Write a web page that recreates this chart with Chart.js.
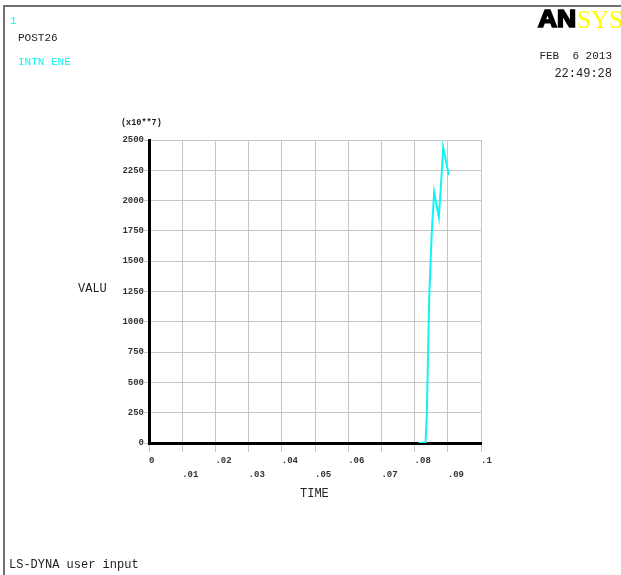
<!DOCTYPE html>
<html>
<head>
<meta charset="utf-8">
<title>POST26 - INTN ENE</title>
<script src="https://cdn.jsdelivr.net/npm/chart.js@4.4.1/dist/chart.umd.min.js"></script>
<style>
  html, body { margin: 0; padding: 0; background: #fff; }
  canvas { display: block; }
</style>
</head>
<body>
<canvas id="postChart" width="621" height="575"></canvas>
<script>
// internal energy history (value in units of 10**7)
const timeValues = [0.0812, 0.0833, 0.0837, 0.0844, 0.0852, 0.0859, 0.0873, 0.0882, 0.0886, 0.0903];
const energyValues = [0, 4, 248, 1205, 1757, 2071, 1862, 2238, 2442, 2211];

const xTickValues = [0, 0.01, 0.02, 0.03, 0.04, 0.05, 0.06, 0.07, 0.08, 0.09, 0.1];
const xTickLabels = ['0', '.01', '.02', '.03', '.04', '.05', '.06', '.07', '.08', '.09', '.1'];
const yTickValues = [0, 250, 500, 750, 1000, 1250, 1500, 1750, 2000, 2250, 2500];
const yTickLabels = ['0', '250', '500', '750', '1000', '1250', '1500', '1750', '2000', '2250', '2500'];

const MONO = '"Liberation Mono", monospace';
const TEXT = '#222';
const CYAN = '#10f4f4';

// frame, header labels, logo and axis captions
const frameText = {
  id: 'frameText',
  afterDraw(chart) {
    const ctx = chart.ctx;
    ctx.save();

    ctx.strokeStyle = '#707070';
    ctx.lineWidth = 2;
    ctx.beginPath();
    ctx.moveTo(4, 575);
    ctx.lineTo(4, 6);
    ctx.lineTo(621, 6);
    ctx.stroke();

    ctx.textBaseline = 'alphabetic';
    ctx.textAlign = 'left';

    ctx.font = '11px ' + MONO;
    ctx.fillStyle = CYAN;
    ctx.fillText('1', 10, 24);
    ctx.fillText('INTN ENE', 18, 65);
    ctx.fillStyle = TEXT;
    ctx.fillText('POST26', 18, 41);

    ctx.textAlign = 'right';
    ctx.fillText('FEB  6 2013', 612, 59);
    ctx.font = '12px ' + MONO;
    ctx.fillText('22:49:28', 612, 77);

    // logo
    ctx.textAlign = 'left';
    ctx.save();
    ctx.translate(538, 27);
    ctx.scale(1.2, 1.05);
    ctx.font = 'bold 22px "Liberation Sans", sans-serif';
    ctx.fillStyle = '#000';
    ctx.strokeStyle = '#000';
    ctx.lineWidth = 1.6;
    ctx.fillText('AN', 0, 0);
    ctx.strokeText('AN', 0, 0);
    ctx.restore();
    ctx.font = '25px "Liberation Serif", serif';
    ctx.fillStyle = '#ffff00';
    ctx.fillText('SYS', 577, 28);

    ctx.fillStyle = TEXT;
    ctx.font = 'bold 8.5px ' + MONO;
    ctx.fillText('(x10**7)', 121, 125);

    ctx.font = '12px ' + MONO;
    ctx.fillText('VALU', 78, 292);
    ctx.fillText('TIME', 300, 497);
    ctx.fillText('LS-DYNA user input', 9, 568);

    ctx.restore();
  }
};

new Chart(document.getElementById('postChart'), {
  type: 'line',
  data: {
    datasets: [{
      data: timeValues.map((t, i) => ({ x: t, y: energyValues[i] })),
      borderColor: CYAN,
      borderWidth: 2,
      pointRadius: 0,
      tension: 0,
      fill: false
    }]
  },
  options: {
    responsive: false,
    animation: false,
    devicePixelRatio: 1,
    layout: { padding: { left: 0, top: 140, right: 140, bottom: 0 } },
    plugins: { legend: { display: false }, tooltip: { enabled: false } },
    scales: {
      x: {
        type: 'linear',
        min: 0,
        max: 0.1,
        afterBuildTicks: (scale) => { scale.ticks = xTickValues.map(v => ({ value: v })); },
        afterFit: (scale) => { scale.height = 132; },
        grid: { color: '#c6c6c6', lineWidth: 1, tickLength: 9 },
        border: { color: '#000', width: 3 },
        ticks: {
          align: 'start',
          padding: 2,
          maxRotation: 0,
          autoSkip: false,
          color: '#333',
          font: { family: 'Liberation Mono', size: 9, weight: 'bold', lineHeight: 1.55 },
          // alternate labels drop to a second row
          callback: (v, i) => (i % 2 === 0 ? [xTickLabels[i]] : ['', xTickLabels[i]])
        }
      },
      y: {
        type: 'linear',
        min: 0,
        max: 2500,
        afterBuildTicks: (scale) => { scale.ticks = yTickValues.map(v => ({ value: v })); },
        afterFit: (scale) => { scale.width = 149; },
        grid: { color: '#c6c6c6', lineWidth: 1, tickLength: 5 },
        border: { color: '#000', width: 3 },
        ticks: {
          padding: 0,
          autoSkip: false,
          color: '#333',
          font: { family: 'Liberation Mono', size: 9, weight: 'bold' },
          callback: (v, i) => yTickLabels[i]
        }
      }
    }
  },
  plugins: [frameText]
});
</script>
</body>
</html>
